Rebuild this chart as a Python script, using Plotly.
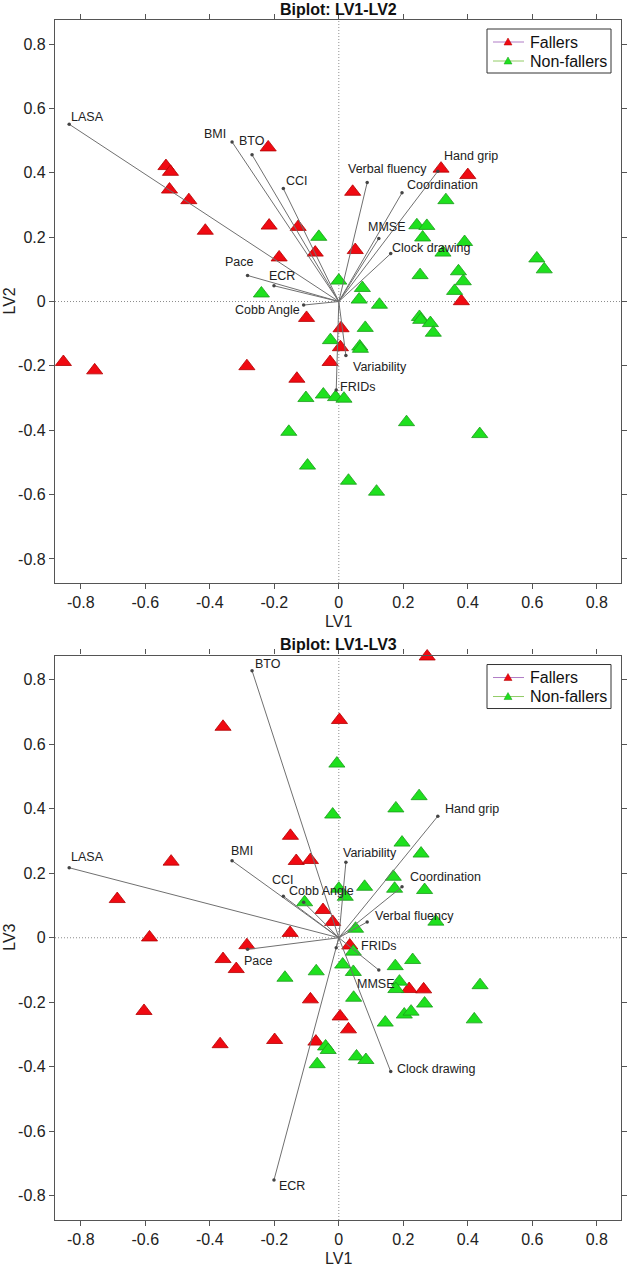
"""
Biplots of the PLS latent variables (LV1-LV2 and LV1-LV3), fallers vs non-fallers.
"""
import plotly.graph_objects as go

# ---- scores, LV1-LV2 plot ----
lv12_fallers_x = [-0.854, -0.757, -0.536, -0.522, -0.525, -0.465, -0.414, -0.285, -0.219, -0.216,
                  -0.185, -0.130, -0.126, -0.100, -0.073, -0.027, 0.005, 0.007, 0.043, 0.051,
                  0.317, 0.380, 0.400]
lv12_fallers_y = [-0.188, -0.214, 0.421, 0.403, 0.348, 0.315, 0.220, -0.201, 0.479, 0.236,
                  0.137, -0.240, 0.232, -0.051, 0.152, -0.188, -0.142, -0.083, 0.341, 0.160,
                  0.413, 0.001, 0.393]
lv12_nonfallers_x = [-0.240, -0.062, 0.000, 0.073, 0.063, 0.126, 0.242, 0.273, 0.260, 0.332,
                     0.390, 0.323, 0.614, 0.637, 0.252, 0.371, 0.386, 0.359, 0.250, 0.254,
                     0.284, 0.293, 0.082, -0.026, 0.065, 0.067, -0.102, -0.048, -0.010, 0.016,
                     0.210, 0.437, -0.155, -0.097, 0.030, 0.117]
lv12_nonfallers_y = [0.025, 0.201, 0.065, 0.042, 0.006, -0.010, 0.237, 0.235, 0.199, 0.315,
                     0.185, 0.152, 0.134, 0.100, 0.082, 0.094, 0.063, 0.033, -0.048, -0.057,
                     -0.067, -0.097, -0.082, -0.120, -0.140, -0.147, -0.300, -0.289, -0.297, -0.302,
                     -0.375, -0.412, -0.405, -0.510, -0.557, -0.591]

# ---- scores, LV1-LV3 plot ----
lv13_fallers_x = [-0.359, -0.150, -0.132, -0.088, -0.520, -0.687, -0.587, -0.151, -0.285, -0.359,
                  -0.318, -0.604, -0.088, 0.002, -0.049, -0.019, 0.034, 0.218, 0.263, 0.004,
                  0.030, -0.368, -0.199, -0.071, 0.274]
lv13_fallers_y = [0.654, 0.316, 0.238, 0.241, 0.236, 0.120, 0.001, 0.015, -0.023, -0.066,
                  -0.097, -0.227, -0.191, 0.675, 0.086, 0.049, -0.024, -0.159, -0.160, -0.244,
                  -0.284, -0.330, -0.317, -0.322, 0.872]
lv13_nonfallers_x = [-0.106, -0.167, -0.006, 0.249, 0.177, -0.019, 0.196, 0.255, 0.169, 0.080,
                     0.173, 0.266, 0.000, 0.020, 0.052, 0.301, 0.045, 0.012, -0.070, 0.045,
                     0.175, 0.229, 0.188, 0.177, 0.046, 0.438, 0.266, 0.203, 0.224, 0.144,
                     0.420, -0.041, -0.033, -0.067, 0.055, 0.084]
lv13_nonfallers_y = [0.110, -0.124, 0.540, 0.439, 0.401, 0.382, 0.295, 0.261, 0.189, 0.158,
                     0.152, 0.148, 0.152, 0.127, 0.028, 0.050, -0.043, -0.083, -0.104, -0.106,
                     -0.088, -0.069, -0.136, -0.159, -0.186, -0.147, -0.204, -0.238, -0.229, -0.263,
                     -0.253, -0.337, -0.348, -0.392, -0.368, -0.379]

# ---- loadings ----
var_names = ['LASA', 'BMI', 'BTO', 'CCI', 'Pace', 'ECR', 'Cobb Angle', 'Verbal fluency',
             'Coordination', 'Hand grip', 'MMSE', 'Clock drawing', 'Variability', 'FRIDs']
load_lv1 = [-0.836, -0.331, -0.269, -0.172, -0.283, -0.201, -0.109, 0.088,
            0.196, 0.307, 0.124, 0.161, 0.022, -0.008]
load_lv2 = [0.551, 0.496, 0.456, 0.351, 0.081, 0.049, -0.011, 0.370,
            0.338, 0.405, 0.196, 0.149, -0.168, -0.275]
load_lv3 = [0.217, 0.239, 0.828, 0.129, -0.036, -0.751, 0.110, 0.049,
            0.158, 0.377, -0.100, -0.415, 0.234, -0.031]

tick_vals = [-0.8, -0.6, -0.4, -0.2, 0, 0.2, 0.4, 0.6, 0.8]
tick_text = ['-0.8', '-0.6', '-0.4', '-0.2', '0', '0.2', '0.4', '0.6', '0.8']

group_names = ['Fallers', 'Non-fallers']

# label placement (anchor, x shift px, y shift px) for each plot
label_pos_12 = {
    'LASA': ('left', 0, 7), 'BMI': ('right', -4, 8), 'BTO': ('center', 0, 14),
    'CCI': ('left', 1, 8), 'Pace': ('center', -8, 13), 'ECR': ('center', 8, 10),
    'Cobb Angle': ('right', -2, -5), 'Verbal fluency': ('center', 20, 13),
    'Coordination': ('left', 3, 8), 'Hand grip': ('left', 4, 15), 'MMSE': ('center', 8, 11),
    'Clock drawing': ('left', -1, 6), 'Variability': ('left', 5, -11), 'FRIDs': ('left', 2, 3),
}
label_pos_13 = {
    'LASA': ('left', 0, 11), 'BMI': ('left', -3, 10), 'BTO': ('left', 1, 7),
    'CCI': ('center', 0, 16), 'Pace': ('left', -6, -12), 'ECR': ('left', 3, -6),
    'Cobb Angle': ('left', -17, 11), 'Verbal fluency': ('left', 6, 6),
    'Coordination': ('left', 6, 10), 'Hand grip': ('left', 5, 7), 'MMSE': ('center', -3, -14),
    'Clock drawing': ('left', 4, 3), 'Variability': ('left', -5, 9), 'FRIDs': ('left', 23, 2),
}

FONT = 'Liberation Sans, Arial, sans-serif'
RED, RED_EDGE = '#f00a12', '#b30000'
GREEN, GREEN_EDGE = '#1ee01e', '#1c9c1c'
LEG_LINE = ['#b07cc6', '#92cc66']
AX_RANGE = [-0.88, 0.875]
Y_RANGE = [-0.875, 0.875]

fig = go.Figure()


def add_biplot(fig, xa, ya, fx, fy, nx, ny, lx, ly, label_pos):
    # score markers
    for x, y, fill, edge in [(fx, fy, RED, RED_EDGE), (nx, ny, GREEN, GREEN_EDGE)]:
        fig.add_trace(go.Scatter(
            x=x, y=y, mode='markers', xaxis=xa, yaxis=ya,
            cliponaxis=False,
            marker=dict(symbol='triangle-up', size=14, color=fill,
                        line=dict(color=edge, width=0.8)),
            hoverinfo='skip'
        ))
    # loading vectors
    vx, vy = [], []
    for a, b in zip(lx, ly):
        vx += [0, a, None]
        vy += [0, b, None]
    fig.add_trace(go.Scatter(
        x=vx, y=vy, mode='lines', xaxis=xa, yaxis=ya,
        line=dict(color='#707070', width=1), hoverinfo='skip'
    ))
    fig.add_trace(go.Scatter(
        x=lx, y=ly, mode='markers', xaxis=xa, yaxis=ya,
        marker=dict(size=3.5, color='#444444'), hoverinfo='skip'
    ))
    for name, a, b in zip(var_names, lx, ly):
        anchor, dx, dy = label_pos[name]
        fig.add_annotation(
            x=a, y=b, xref=xa, yref=ya, text=name, showarrow=False,
            xanchor=anchor, yanchor='middle', xshift=dx, yshift=dy,
            font=dict(family=FONT, size=12.5, color='#222222')
        )
    # dotted zero lines
    fig.add_shape(type='line', xref=xa, yref=ya + ' domain', x0=0, x1=0, y0=0, y1=1,
                  line=dict(color='#8c8c8c', width=1, dash='1px,2px'), layer='below')
    fig.add_shape(type='line', xref=xa + ' domain', yref=ya, x0=0, x1=1, y0=0, y1=0,
                  line=dict(color='#8c8c8c', width=1, dash='1px,2px'), layer='below')

    # boxed legend in the top right corner (line + triangle, like the original)
    xd, yd = xa + ' domain', ya + ' domain'
    fig.add_shape(type='rect', xref=xd, yref=yd, xsizemode='pixel', ysizemode='pixel',
                  xanchor=1, yanchor=1, x0=-134, x1=-10, y0=-9, y1=-53,
                  line=dict(color='#333333', width=1), fillcolor='white', layer='above')
    for i, (name, fill, edge) in enumerate(zip(group_names, [RED, GREEN], [RED_EDGE, GREEN_EDGE])):
        row = -22 - 19 * i
        fig.add_shape(type='line', xref=xd, yref=yd, xsizemode='pixel', ysizemode='pixel',
                      xanchor=1, yanchor=1, x0=-128, x1=-97, y0=row, y1=row,
                      line=dict(color=LEG_LINE[i], width=1), layer='above')
        fig.add_shape(type='path', xref=xd, yref=yd, xsizemode='pixel', ysizemode='pixel',
                      xanchor=1, yanchor=1,
                      path=f'M -117,{row - 3} L -109,{row - 3} L -113,{row + 4} Z',
                      line=dict(color=edge, width=0.5), fillcolor=fill, layer='above')
        fig.add_annotation(x=1, y=1, xref=xd, yref=yd, text=name, showarrow=False,
                           xanchor='left', yanchor='middle', xshift=-93, yshift=row,
                           font=dict(family=FONT, size=16, color='#111111'))


add_biplot(fig, 'x', 'y', lv12_fallers_x, lv12_fallers_y,
           lv12_nonfallers_x, lv12_nonfallers_y, load_lv1, load_lv2, label_pos_12)
add_biplot(fig, 'x2', 'y2', lv13_fallers_x, lv13_fallers_y,
           lv13_nonfallers_x, lv13_nonfallers_y, load_lv1, load_lv3, label_pos_13)

axis_style = dict(
    tickvals=tick_vals, ticktext=tick_text, ticks='outside', ticklen=5, tickwidth=1,
    tickcolor='#555555', showline=True, linecolor='#555555', linewidth=1.3,
    mirror='allticks', showgrid=False, zeroline=False, automargin=False,
    tickfont=dict(family=FONT, size=16, color='#222222')
)

fig.update_layout(
    width=628, height=1266,
    margin=dict(l=55, r=7, t=20, b=46),
    paper_bgcolor='white', plot_bgcolor='white',
    font=dict(family=FONT),
    showlegend=False,
    xaxis=dict(domain=[0, 1], range=AX_RANGE, anchor='y', **axis_style),
    yaxis=dict(domain=[0.5308, 1], range=Y_RANGE, anchor='x', **axis_style),
    xaxis2=dict(domain=[0, 1], range=AX_RANGE, anchor='y2', **axis_style),
    yaxis2=dict(domain=[0, 0.4704], range=Y_RANGE, anchor='x2', **axis_style),
)

# titles and axis labels
for ya, xa, title, ylab in [('y', 'x', 'Biplot: LV1-LV2', 'LV2'), ('y2', 'x2', 'Biplot: LV1-LV3', 'LV3')]:
    fig.add_annotation(x=0.5, y=1, xref=xa + ' domain', yref=ya + ' domain', text=f'<b>{title}</b>',
                       showarrow=False, yanchor='middle', yshift=11,
                       font=dict(family=FONT, size=16, color='#111111'))
    fig.add_annotation(x=0.5, y=0, xref=xa + ' domain', yref=ya + ' domain', text='LV1',
                       showarrow=False, yanchor='middle', yshift=-38,
                       font=dict(family=FONT, size=16, color='#222222'))
    fig.add_annotation(x=0, y=0.5, xref=xa + ' domain', yref=ya + ' domain', text=ylab,
                       showarrow=False, xanchor='center', xshift=-45, textangle=-90,
                       font=dict(family=FONT, size=16, color='#222222'))

# the page's default body margin would shift the figure by 8px
fig.write_html("out.html", config={'displayModeBar': False},
               post_script="document.body.style.margin='0px';")
